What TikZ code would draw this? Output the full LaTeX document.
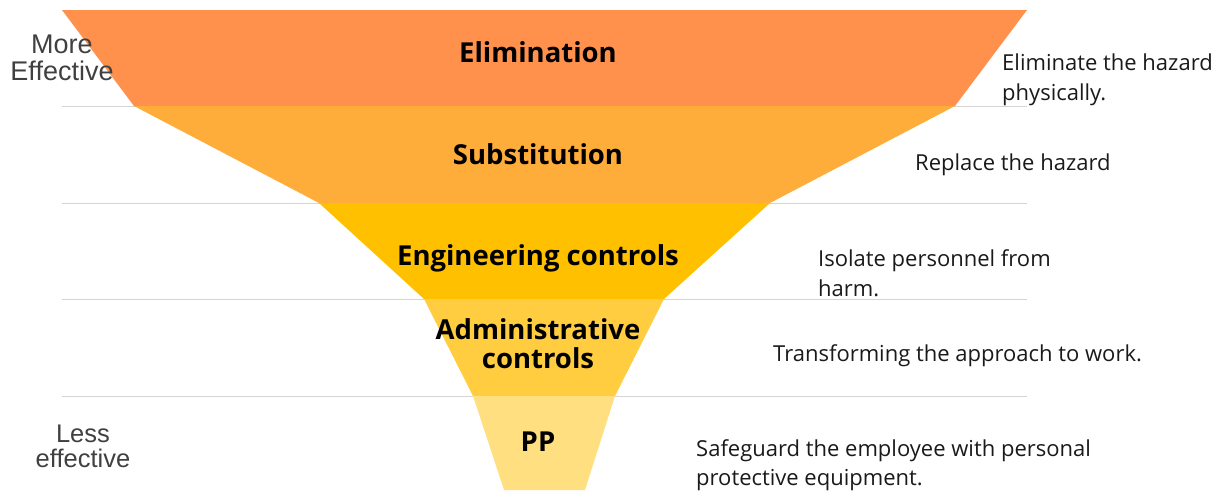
\documentclass[tikz,border=0pt]{standalone}
\usepackage{fontspec}
\setmainfont{Open Sans}
\newfontfamily\lsans{Liberation Sans}
\definecolor{cElim}{HTML}{FF914D}
\definecolor{cSub}{HTML}{FFAD3A}
\definecolor{cEng}{HTML}{FFC000}
\definecolor{cAdm}{HTML}{FFCD3F}
\definecolor{cPP}{HTML}{FFDF80}
\definecolor{cLine}{HTML}{D4D4D4}
\definecolor{cSide}{HTML}{404040}
\definecolor{cDesc}{HTML}{1A1A1A}
\tikzset{
  sep/.style={draw=cLine, line width=1pt},
  lvl/.style={font=\fontsize{27.5}{29}\selectfont\bfseries, text=black, align=center, anchor=base, inner sep=0pt},
  desc/.style={font=\fontsize{22}{29.5}\selectfont, text=cDesc, align=left, anchor=base west, inner sep=0pt},
  side/.style={font=\lsans\fontsize{27}{27}\selectfont, text=cSide, align=center, anchor=base, inner sep=0pt}
}
\begin{document}
\begin{tikzpicture}[x=1pt,y=-1pt]
\useasboundingbox (0,0) rectangle (1218,490);
% separator lines
\foreach \yy in {10,106,203,299,396} \draw[sep] (62,\yy) -- (1027,\yy);
% funnel bands
\fill[cElim] (62,10) -- (1027,10) -- (955,106) -- (134,106) -- cycle;
\fill[cSub] (134,106) -- (955,106) -- (770,203) -- (319,203) -- cycle;
\fill[cEng] (319,203) -- (770,203) -- (664,299) -- (424,299) -- cycle;
\fill[cAdm] (424,299) -- (664,299) -- (615,396) -- (473,396) -- cycle;
\fill[cPP] (473,396) -- (615,396) -- (585,490) -- (504,490) -- cycle;
% level labels
\node[lvl] (elim) at (538,62) {Elimination};
\node[lvl] (subs) at (538,164) {Substitution};
\node[lvl] (eng) at (538,265) {Engineering controls};
\node[lvl] (adm) at (538,368) {Administrative\\controls};
\node[lvl] (pp) at (538,451) {PP};
% descriptions
\node[desc] (d1) at (1002,100) {Eliminate the hazard\\physically.};
\node[desc] (d2) at (915,170) {Replace the hazard};
\node[desc] (d3) at (818,296) {Isolate personnel from\\harm.};
\node[desc] (d4) at (773,361) {Transforming the approach to work.};
\node[desc, font=\fontsize{22}{28.5}\selectfont] (d5) at (696,485) {Safeguard the employee with personal\\protective equipment.};
% side labels
\node[side] (more) at (62,80) {More\\Effective};
\node[side, font=\lsans\fontsize{25.5}{25}\selectfont] (less) at (83,467) {Less\\effective};
\end{tikzpicture}
\end{document}
